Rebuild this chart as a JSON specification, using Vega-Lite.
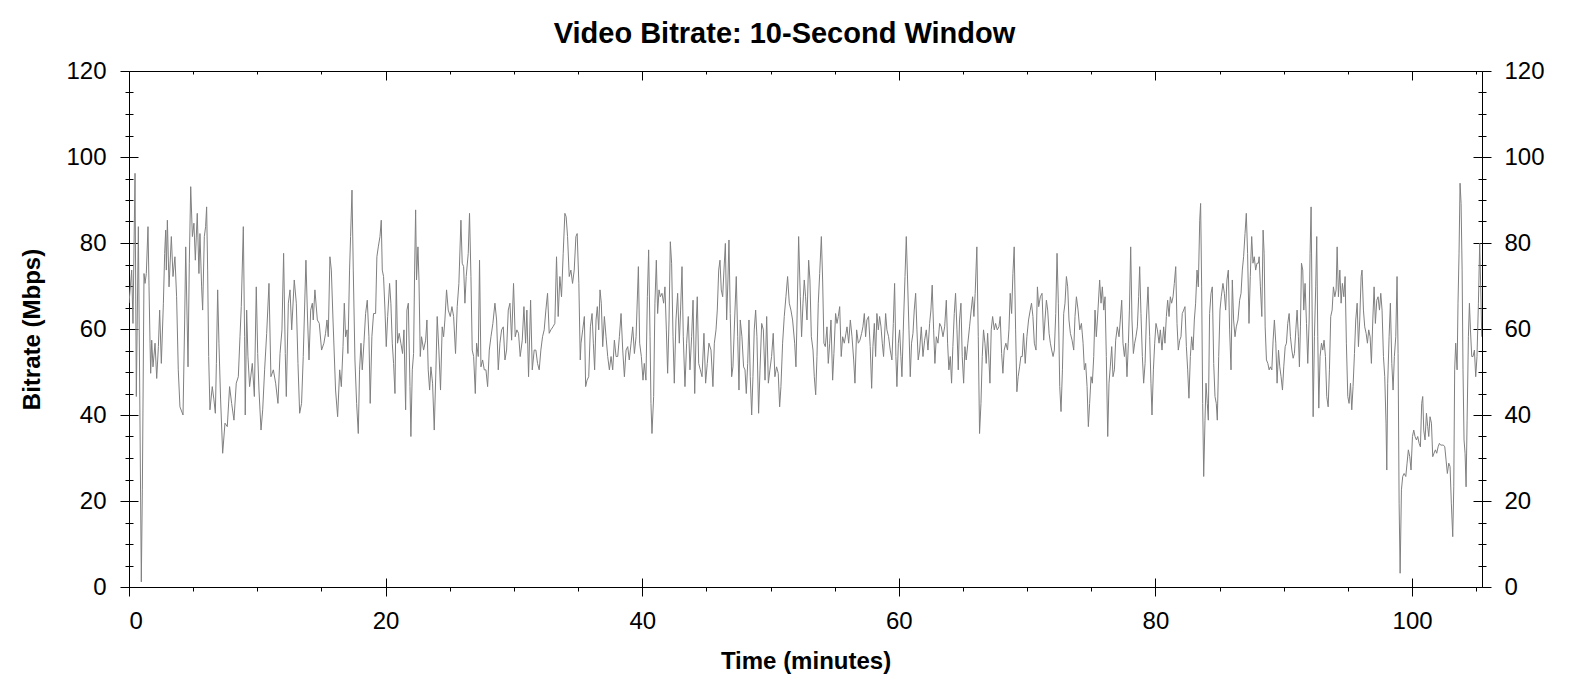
{
  "$schema": "https://vega.github.io/schema/vega-lite/v6.json",
  "width": 1353,
  "height": 516,
  "autosize": {"type": "none"},
  "padding": {"left": 129, "top": 71, "right": 88, "bottom": 108},
  "background": "#ffffff",
  "title": {"text": "Video Bitrate: 10-Second Window", "font": "Liberation Sans", "fontSize": 29, "fontWeight": "bold", "color": "#000000", "offset": 10, "dx": -21},
  "config": {
    "view": {"stroke": "#000000", "strokeWidth": 1},
    "axis": {"labelFont": "Liberation Sans", "labelFontSize": 24, "labelColor": "#000000", "titleFont": "Liberation Sans", "titleFontSize": 24, "titleFontWeight": "bold", "titleColor": "#000000", "domain": false, "grid": false, "tickColor": "#000000", "tickWidth": 1}
  },
  "data": {"values": [
{"t":0.00,"v":66.0},{"t":0.21,"v":73.7},{"t":0.31,"v":61.3},{"t":0.47,"v":96.2},{"t":0.57,"v":44.3},{"t":0.73,"v":83.8},{"t":0.96,"v":1.2},{"t":1.04,"v":22.6},{"t":1.17,"v":72.9},{"t":1.25,"v":70.6},{"t":1.35,"v":72.9},{"t":1.48,"v":83.8},{"t":1.56,"v":69.8},{"t":1.64,"v":56.7},{"t":1.69,"v":49.7},{"t":1.77,"v":57.4},{"t":1.87,"v":51.2},{"t":2.03,"v":56.7},{"t":2.16,"v":48.5},{"t":2.29,"v":55.9},{"t":2.39,"v":64.4},{"t":2.52,"v":52.0},{"t":2.68,"v":66.0},{"t":2.78,"v":77.6},{"t":2.86,"v":83.0},{"t":2.91,"v":73.7},{"t":2.99,"v":85.3},{"t":3.12,"v":69.8},{"t":3.30,"v":81.5},{"t":3.43,"v":72.2},{"t":3.58,"v":76.8},{"t":3.71,"v":67.5},{"t":3.84,"v":50.5},{"t":3.97,"v":41.9},{"t":4.21,"v":40.0},{"t":4.34,"v":62.1},{"t":4.42,"v":79.1},{"t":4.60,"v":51.2},{"t":4.70,"v":75.3},{"t":4.81,"v":93.1},{"t":4.94,"v":81.5},{"t":5.06,"v":84.6},{"t":5.17,"v":76.0},{"t":5.32,"v":86.9},{"t":5.45,"v":72.9},{"t":5.53,"v":82.2},{"t":5.66,"v":69.8},{"t":5.74,"v":64.4},{"t":5.87,"v":81.5},{"t":5.97,"v":83.8},{"t":6.05,"v":88.4},{"t":6.13,"v":73.7},{"t":6.21,"v":53.6},{"t":6.31,"v":41.2},{"t":6.49,"v":46.6},{"t":6.62,"v":43.5},{"t":6.73,"v":40.4},{"t":6.81,"v":52.0},{"t":6.91,"v":69.1},{"t":7.01,"v":56.7},{"t":7.14,"v":43.5},{"t":7.30,"v":31.1},{"t":7.48,"v":38.1},{"t":7.66,"v":37.3},{"t":7.84,"v":46.6},{"t":8.00,"v":42.7},{"t":8.18,"v":38.8},{"t":8.36,"v":47.4},{"t":8.52,"v":48.9},{"t":8.65,"v":58.2},{"t":8.75,"v":65.2},{"t":8.91,"v":83.8},{"t":9.01,"v":58.2},{"t":9.06,"v":40.0},{"t":9.17,"v":64.4},{"t":9.27,"v":53.6},{"t":9.40,"v":46.6},{"t":9.61,"v":52.0},{"t":9.77,"v":44.3},{"t":9.92,"v":69.8},{"t":10.03,"v":54.3},{"t":10.13,"v":45.8},{"t":10.29,"v":36.5},{"t":10.42,"v":41.2},{"t":10.57,"v":50.5},{"t":10.73,"v":59.0},{"t":10.91,"v":70.6},{"t":11.06,"v":48.9},{"t":11.25,"v":50.5},{"t":11.43,"v":47.4},{"t":11.61,"v":42.7},{"t":11.77,"v":54.3},{"t":11.92,"v":59.8},{"t":12.05,"v":77.6},{"t":12.18,"v":54.3},{"t":12.26,"v":44.3},{"t":12.42,"v":66.0},{"t":12.55,"v":69.1},{"t":12.68,"v":59.8},{"t":12.88,"v":71.4},{"t":13.04,"v":66.0},{"t":13.17,"v":52.0},{"t":13.30,"v":40.4},{"t":13.45,"v":42.7},{"t":13.58,"v":53.6},{"t":13.79,"v":76.0},{"t":13.92,"v":62.1},{"t":14.03,"v":52.8},{"t":14.16,"v":64.4},{"t":14.29,"v":66.0},{"t":14.36,"v":62.1},{"t":14.49,"v":69.1},{"t":14.68,"v":62.1},{"t":14.83,"v":61.3},{"t":15.01,"v":55.1},{"t":15.19,"v":56.7},{"t":15.32,"v":59.0},{"t":15.43,"v":62.1},{"t":15.53,"v":58.2},{"t":15.66,"v":76.8},{"t":15.77,"v":73.7},{"t":15.90,"v":62.1},{"t":16.10,"v":45.8},{"t":16.26,"v":39.6},{"t":16.42,"v":50.5},{"t":16.55,"v":46.6},{"t":16.68,"v":55.9},{"t":16.78,"v":66.0},{"t":16.88,"v":58.2},{"t":16.99,"v":59.8},{"t":17.06,"v":54.3},{"t":17.19,"v":73.7},{"t":17.27,"v":81.5},{"t":17.38,"v":92.3},{"t":17.48,"v":73.7},{"t":17.61,"v":52.8},
{"t":17.74,"v":42.7},{"t":17.87,"v":35.7},{"t":17.97,"v":50.5},{"t":18.08,"v":56.7},{"t":18.18,"v":50.5},{"t":18.31,"v":56.7},{"t":18.44,"v":63.6},{"t":18.57,"v":66.7},{"t":18.70,"v":58.2},{"t":18.80,"v":42.7},{"t":18.93,"v":58.2},{"t":19.06,"v":63.6},{"t":19.22,"v":63.6},{"t":19.32,"v":76.8},{"t":19.43,"v":79.1},{"t":19.56,"v":81.5},{"t":19.66,"v":85.3},{"t":19.74,"v":73.7},{"t":19.84,"v":72.2},{"t":19.95,"v":64.4},{"t":20.05,"v":55.9},{"t":20.16,"v":62.9},{"t":20.31,"v":70.6},{"t":20.41,"v":66.0},{"t":20.52,"v":56.7},{"t":20.62,"v":52.0},{"t":20.73,"v":45.0},{"t":20.83,"v":71.4},{"t":20.93,"v":56.7},{"t":21.06,"v":59.0},{"t":21.19,"v":56.7},{"t":21.32,"v":54.3},{"t":21.43,"v":59.8},{"t":21.56,"v":41.2},{"t":21.66,"v":64.4},{"t":21.77,"v":66.0},{"t":21.90,"v":46.6},{"t":21.97,"v":35.0},{"t":22.08,"v":50.5},{"t":22.18,"v":54.3},{"t":22.26,"v":73.7},{"t":22.34,"v":87.7},{"t":22.41,"v":71.4},{"t":22.52,"v":79.1},{"t":22.60,"v":71.4},{"t":22.70,"v":53.6},{"t":22.80,"v":58.2},{"t":22.96,"v":55.1},{"t":23.12,"v":57.4},{"t":23.22,"v":62.1},{"t":23.32,"v":50.5},{"t":23.43,"v":45.8},{"t":23.53,"v":51.2},{"t":23.66,"v":47.4},{"t":23.79,"v":36.5},{"t":23.92,"v":50.5},{"t":24.02,"v":62.9},{"t":24.15,"v":55.1},{"t":24.28,"v":45.8},{"t":24.41,"v":60.5},{"t":24.52,"v":58.2},{"t":24.62,"v":62.1},{"t":24.75,"v":69.1},{"t":24.88,"v":64.4},{"t":25.04,"v":62.9},{"t":25.17,"v":65.2},{"t":25.30,"v":62.9},{"t":25.45,"v":54.3},{"t":25.58,"v":65.2},{"t":25.71,"v":70.6},{"t":25.87,"v":85.3},{"t":25.97,"v":75.3},{"t":26.08,"v":74.5},{"t":26.18,"v":66.0},{"t":26.28,"v":72.2},{"t":26.44,"v":77.6},{"t":26.54,"v":86.9},{"t":26.65,"v":72.2},{"t":26.75,"v":55.1},{"t":26.86,"v":53.6},{"t":26.99,"v":45.0},{"t":27.09,"v":56.7},{"t":27.22,"v":53.6},{"t":27.32,"v":76.0},{"t":27.43,"v":51.2},{"t":27.56,"v":52.8},{"t":27.69,"v":50.5},{"t":27.82,"v":50.5},{"t":27.95,"v":46.6},{"t":28.08,"v":55.1},{"t":28.21,"v":58.2},{"t":28.36,"v":61.3},{"t":28.52,"v":66.0},{"t":28.65,"v":62.1},{"t":28.78,"v":50.5},{"t":28.91,"v":56.7},{"t":29.04,"v":59.8},{"t":29.17,"v":60.5},{"t":29.30,"v":52.8},{"t":29.43,"v":55.1},{"t":29.56,"v":64.4},{"t":29.69,"v":66.0},{"t":29.82,"v":57.4},{"t":29.97,"v":70.6},{"t":30.10,"v":58.2},{"t":30.23,"v":59.8},{"t":30.36,"v":59.0},{"t":30.49,"v":53.6},{"t":30.65,"v":57.4},{"t":30.78,"v":65.2},{"t":30.91,"v":56.7},{"t":31.01,"v":64.4},{"t":31.14,"v":48.9},{"t":31.30,"v":66.7},{"t":31.43,"v":50.5},{"t":31.58,"v":55.1},{"t":31.71,"v":55.1},{"t":31.84,"v":52.0},{"t":31.97,"v":50.5},{"t":32.10,"v":55.1},{"t":32.23,"v":58.2},{"t":32.36,"v":59.8},{"t":32.49,"v":64.4},{"t":32.62,"v":68.3},{"t":32.75,"v":59.0},{"t":32.88,"v":59.8},{"t":33.04,"v":60.5},{"t":33.19,"v":61.3},{"t":33.32,"v":76.8},{"t":33.45,"v":62.9},{"t":33.58,"v":72.2},{"t":33.71,"v":67.5},{"t":33.84,"v":77.6},{"t":33.97,"v":86.9},{"t":34.07,"v":86.1},{"t":34.18,"v":81.5},{"t":34.31,"v":72.2},{"t":34.44,"v":73.7},{"t":34.57,"v":70.6},{"t":34.70,"v":73.7},{"t":34.83,"v":81.5},{"t":34.93,"v":82.2},{"t":35.06,"v":70.6},{"t":35.17,"v":52.8},
{"t":35.23,"v":56.7},{"t":35.36,"v":59.8},{"t":35.49,"v":62.9},{"t":35.59,"v":46.6},{"t":35.70,"v":48.1},{"t":35.83,"v":48.9},{"t":35.96,"v":60.5},{"t":36.09,"v":63.6},{"t":36.19,"v":56.7},{"t":36.29,"v":50.5},{"t":36.40,"v":62.1},{"t":36.50,"v":65.2},{"t":36.61,"v":59.8},{"t":36.71,"v":69.1},{"t":36.81,"v":66.0},{"t":36.92,"v":55.9},{"t":37.05,"v":62.9},{"t":37.18,"v":58.2},{"t":37.31,"v":53.6},{"t":37.44,"v":50.5},{"t":37.57,"v":53.6},{"t":37.70,"v":50.5},{"t":37.83,"v":57.4},{"t":37.96,"v":53.6},{"t":38.09,"v":53.6},{"t":38.22,"v":58.2},{"t":38.35,"v":63.6},{"t":38.48,"v":55.1},{"t":38.61,"v":48.9},{"t":38.74,"v":55.1},{"t":38.87,"v":55.9},{"t":38.99,"v":52.8},{"t":39.13,"v":56.7},{"t":39.26,"v":60.5},{"t":39.39,"v":54.3},{"t":39.52,"v":58.2},{"t":39.59,"v":64.4},{"t":39.70,"v":74.5},{"t":39.80,"v":56.7},{"t":39.93,"v":53.6},{"t":40.06,"v":48.1},{"t":40.16,"v":52.0},{"t":40.29,"v":48.1},{"t":40.40,"v":67.5},{"t":40.50,"v":78.4},{"t":40.61,"v":58.2},{"t":40.68,"v":42.7},{"t":40.76,"v":35.7},{"t":40.89,"v":44.3},{"t":40.99,"v":66.0},{"t":41.10,"v":76.0},{"t":41.20,"v":63.6},{"t":41.31,"v":69.1},{"t":41.41,"v":67.5},{"t":41.54,"v":68.3},{"t":41.67,"v":66.0},{"t":41.77,"v":69.8},{"t":41.88,"v":59.8},{"t":41.98,"v":49.7},{"t":42.09,"v":62.1},{"t":42.19,"v":80.3},{"t":42.29,"v":75.3},{"t":42.40,"v":58.2},{"t":42.50,"v":47.4},{"t":42.63,"v":62.1},{"t":42.76,"v":68.3},{"t":42.89,"v":56.7},{"t":42.99,"v":64.4},{"t":43.10,"v":74.5},{"t":43.20,"v":58.2},{"t":43.33,"v":46.6},{"t":43.46,"v":56.7},{"t":43.59,"v":62.9},{"t":43.72,"v":50.5},{"t":43.85,"v":58.2},{"t":43.96,"v":66.7},{"t":44.09,"v":45.0},{"t":44.22,"v":62.1},{"t":44.29,"v":67.5},{"t":44.40,"v":52.0},{"t":44.53,"v":50.5},{"t":44.66,"v":48.9},{"t":44.81,"v":59.0},{"t":44.94,"v":47.4},{"t":45.07,"v":52.0},{"t":45.20,"v":56.7},{"t":45.36,"v":55.1},{"t":45.51,"v":46.6},{"t":45.62,"v":56.7},{"t":45.75,"v":59.8},{"t":45.85,"v":64.4},{"t":45.96,"v":73.7},{"t":46.06,"v":76.0},{"t":46.16,"v":69.1},{"t":46.27,"v":67.5},{"t":46.37,"v":73.7},{"t":46.48,"v":79.9},{"t":46.58,"v":62.1},{"t":46.68,"v":71.4},{"t":46.76,"v":80.7},{"t":46.86,"v":63.6},{"t":46.97,"v":48.9},{"t":47.07,"v":51.2},{"t":47.20,"v":62.1},{"t":47.33,"v":72.2},{"t":47.44,"v":58.2},{"t":47.54,"v":45.8},{"t":47.64,"v":62.1},{"t":47.77,"v":58.2},{"t":47.90,"v":51.2},{"t":48.01,"v":50.5},{"t":48.11,"v":45.0},{"t":48.22,"v":52.0},{"t":48.32,"v":62.1},{"t":48.42,"v":48.9},{"t":48.53,"v":40.0},{"t":48.63,"v":48.9},{"t":48.73,"v":59.8},{"t":48.84,"v":64.4},{"t":48.94,"v":58.2},{"t":49.07,"v":40.4},{"t":49.18,"v":50.5},{"t":49.31,"v":61.3},{"t":49.44,"v":59.8},{"t":49.57,"v":48.1},{"t":49.70,"v":62.9},{"t":49.83,"v":47.4},{"t":49.95,"v":50.5},{"t":50.08,"v":53.6},{"t":50.21,"v":59.0},{"t":50.34,"v":48.9},{"t":50.47,"v":51.2},{"t":50.60,"v":49.7},{"t":50.71,"v":41.9},{"t":50.81,"v":46.6},{"t":50.94,"v":56.7},{"t":51.07,"v":62.9},{"t":51.20,"v":67.5},{"t":51.33,"v":72.2},{"t":51.46,"v":66.0},{"t":51.59,"v":64.4},{"t":51.72,"v":62.1},{"t":51.88,"v":56.7},{"t":51.98,"v":51.2},{"t":52.08,"v":64.4},{"t":52.19,"v":81.5},{"t":52.32,"v":67.5},{"t":52.42,"v":58.2},{"t":52.53,"v":66.0},{"t":52.63,"v":71.4},{"t":52.73,"v":67.5},{"t":52.84,"v":62.1},
{"t":52.97,"v":76.0},{"t":53.07,"v":71.4},{"t":53.18,"v":58.2},{"t":53.31,"v":55.1},{"t":53.41,"v":48.9},{"t":53.52,"v":44.7},{"t":53.62,"v":53.6},{"t":53.72,"v":66.0},{"t":53.83,"v":72.9},{"t":53.96,"v":81.5},{"t":54.06,"v":71.4},{"t":54.16,"v":56.7},{"t":54.27,"v":55.9},{"t":54.40,"v":60.5},{"t":54.50,"v":52.0},{"t":54.61,"v":56.7},{"t":54.71,"v":62.1},{"t":54.84,"v":48.1},{"t":54.94,"v":54.3},{"t":55.07,"v":63.6},{"t":55.18,"v":61.3},{"t":55.28,"v":62.9},{"t":55.39,"v":65.2},{"t":55.51,"v":53.6},{"t":55.62,"v":58.2},{"t":55.75,"v":56.7},{"t":55.88,"v":59.0},{"t":55.96,"v":60.5},{"t":56.09,"v":56.7},{"t":56.22,"v":62.1},{"t":56.35,"v":58.2},{"t":56.48,"v":52.8},{"t":56.58,"v":47.4},{"t":56.71,"v":59.8},{"t":56.84,"v":56.7},{"t":56.97,"v":57.4},{"t":57.10,"v":59.0},{"t":57.20,"v":60.5},{"t":57.31,"v":63.6},{"t":57.41,"v":58.2},{"t":57.51,"v":62.1},{"t":57.64,"v":62.9},{"t":57.77,"v":55.9},{"t":57.88,"v":46.2},{"t":57.98,"v":55.9},{"t":58.09,"v":61.3},{"t":58.19,"v":53.6},{"t":58.29,"v":63.6},{"t":58.40,"v":59.8},{"t":58.50,"v":62.9},{"t":58.61,"v":60.5},{"t":58.71,"v":56.7},{"t":58.81,"v":53.6},{"t":58.97,"v":63.6},{"t":59.07,"v":59.8},{"t":59.20,"v":58.2},{"t":59.33,"v":55.1},{"t":59.46,"v":52.8},{"t":59.57,"v":61.3},{"t":59.67,"v":70.6},{"t":59.77,"v":53.6},{"t":59.85,"v":46.6},{"t":59.96,"v":56.7},{"t":60.06,"v":59.8},{"t":60.16,"v":53.6},{"t":60.24,"v":48.9},{"t":60.37,"v":62.1},{"t":60.48,"v":72.2},{"t":60.58,"v":81.5},{"t":60.68,"v":71.4},{"t":60.79,"v":59.8},{"t":60.89,"v":48.9},{"t":60.99,"v":56.7},{"t":61.10,"v":59.0},{"t":61.20,"v":64.4},{"t":61.31,"v":68.3},{"t":61.41,"v":59.8},{"t":61.51,"v":52.8},{"t":61.62,"v":55.1},{"t":61.75,"v":60.5},{"t":61.88,"v":53.6},{"t":62.01,"v":57.4},{"t":62.14,"v":59.8},{"t":62.27,"v":55.1},{"t":62.40,"v":61.3},{"t":62.50,"v":64.4},{"t":62.60,"v":70.2},{"t":62.71,"v":59.8},{"t":62.81,"v":52.0},{"t":62.92,"v":58.2},{"t":63.05,"v":56.7},{"t":63.18,"v":61.3},{"t":63.31,"v":60.5},{"t":63.44,"v":58.2},{"t":63.57,"v":60.5},{"t":63.70,"v":66.7},{"t":63.80,"v":56.7},{"t":63.90,"v":50.5},{"t":64.01,"v":53.6},{"t":64.11,"v":47.4},{"t":64.21,"v":55.9},{"t":64.32,"v":63.6},{"t":64.42,"v":68.3},{"t":64.53,"v":59.8},{"t":64.63,"v":50.5},{"t":64.73,"v":62.1},{"t":64.84,"v":66.0},{"t":64.94,"v":53.6},{"t":65.05,"v":47.4},{"t":65.15,"v":55.9},{"t":65.25,"v":52.8},{"t":65.38,"v":56.7},{"t":65.51,"v":60.5},{"t":65.64,"v":64.4},{"t":65.75,"v":67.5},{"t":65.85,"v":62.9},{"t":65.95,"v":68.3},{"t":66.08,"v":79.1},{"t":66.19,"v":58.2},{"t":66.29,"v":35.7},{"t":66.40,"v":42.7},{"t":66.50,"v":53.6},{"t":66.60,"v":59.8},{"t":66.71,"v":56.7},{"t":66.81,"v":52.0},{"t":66.92,"v":59.0},{"t":67.02,"v":52.8},{"t":67.10,"v":47.4},{"t":67.20,"v":59.8},{"t":67.31,"v":62.9},{"t":67.44,"v":59.8},{"t":67.54,"v":61.3},{"t":67.67,"v":59.8},{"t":67.80,"v":60.5},{"t":67.90,"v":62.9},{"t":68.01,"v":54.3},{"t":68.11,"v":49.7},{"t":68.21,"v":55.1},{"t":68.34,"v":56.7},{"t":68.47,"v":55.1},{"t":68.58,"v":59.8},{"t":68.68,"v":68.3},{"t":68.79,"v":63.6},{"t":68.89,"v":72.9},{"t":68.99,"v":79.1},{"t":69.10,"v":59.8},{"t":69.20,"v":45.4},{"t":69.30,"v":48.9},{"t":69.41,"v":51.2},{"t":69.51,"v":53.6},{"t":69.62,"v":53.6},{"t":69.72,"v":59.0},{"t":69.85,"v":52.0},{"t":69.98,"v":58.2},{"t":70.11,"v":62.1},{"t":70.24,"v":64.4},{"t":70.34,"v":66.0},{"t":70.45,"v":62.9},
{"t":70.56,"v":56.7},{"t":70.69,"v":55.1},{"t":70.80,"v":69.8},{"t":70.90,"v":65.2},{"t":71.03,"v":67.5},{"t":71.16,"v":68.3},{"t":71.29,"v":57.4},{"t":71.39,"v":62.1},{"t":71.50,"v":66.7},{"t":71.60,"v":64.4},{"t":71.71,"v":59.0},{"t":71.81,"v":56.7},{"t":71.91,"v":55.1},{"t":72.02,"v":53.6},{"t":72.12,"v":55.1},{"t":72.23,"v":63.6},{"t":72.33,"v":77.6},{"t":72.43,"v":66.0},{"t":72.54,"v":46.6},{"t":72.64,"v":40.8},{"t":72.75,"v":50.5},{"t":72.85,"v":63.6},{"t":72.95,"v":66.0},{"t":73.06,"v":72.2},{"t":73.16,"v":69.8},{"t":73.26,"v":62.1},{"t":73.37,"v":59.0},{"t":73.50,"v":57.4},{"t":73.63,"v":55.1},{"t":73.73,"v":62.9},{"t":73.84,"v":67.5},{"t":73.97,"v":64.4},{"t":74.10,"v":59.8},{"t":74.23,"v":61.3},{"t":74.36,"v":56.7},{"t":74.46,"v":50.5},{"t":74.56,"v":52.0},{"t":74.67,"v":46.6},{"t":74.77,"v":37.3},{"t":74.87,"v":42.7},{"t":74.98,"v":48.9},{"t":75.08,"v":47.4},{"t":75.19,"v":53.6},{"t":75.29,"v":64.4},{"t":75.39,"v":58.2},{"t":75.52,"v":64.4},{"t":75.65,"v":71.4},{"t":75.76,"v":66.0},{"t":75.86,"v":69.8},{"t":75.97,"v":64.4},{"t":76.07,"v":67.5},{"t":76.17,"v":53.6},{"t":76.28,"v":35.0},{"t":76.38,"v":47.4},{"t":76.48,"v":51.2},{"t":76.59,"v":55.9},{"t":76.69,"v":48.9},{"t":76.80,"v":50.5},{"t":76.90,"v":57.4},{"t":77.03,"v":60.5},{"t":77.16,"v":58.2},{"t":77.26,"v":62.1},{"t":77.37,"v":66.7},{"t":77.47,"v":56.7},{"t":77.58,"v":53.6},{"t":77.68,"v":56.7},{"t":77.78,"v":48.9},{"t":77.89,"v":56.7},{"t":77.97,"v":64.4},{"t":78.07,"v":79.1},{"t":78.17,"v":62.1},{"t":78.28,"v":54.3},{"t":78.38,"v":56.7},{"t":78.48,"v":58.2},{"t":78.59,"v":60.5},{"t":78.69,"v":67.5},{"t":78.77,"v":74.5},{"t":78.87,"v":63.6},{"t":78.98,"v":53.6},{"t":79.08,"v":47.4},{"t":79.19,"v":52.0},{"t":79.29,"v":62.1},{"t":79.42,"v":69.8},{"t":79.55,"v":58.2},{"t":79.65,"v":47.4},{"t":79.73,"v":40.0},{"t":79.84,"v":50.5},{"t":79.94,"v":56.7},{"t":80.04,"v":61.3},{"t":80.15,"v":59.8},{"t":80.28,"v":56.7},{"t":80.38,"v":59.8},{"t":80.51,"v":55.1},{"t":80.64,"v":60.5},{"t":80.74,"v":56.7},{"t":80.85,"v":62.9},{"t":80.95,"v":66.7},{"t":81.06,"v":62.9},{"t":81.16,"v":67.5},{"t":81.26,"v":66.0},{"t":81.37,"v":67.5},{"t":81.47,"v":70.6},{"t":81.58,"v":74.5},{"t":81.68,"v":61.3},{"t":81.78,"v":55.1},{"t":81.89,"v":57.4},{"t":81.99,"v":58.2},{"t":82.09,"v":63.6},{"t":82.20,"v":64.4},{"t":82.30,"v":65.2},{"t":82.41,"v":55.9},{"t":82.51,"v":50.5},{"t":82.61,"v":43.9},{"t":82.72,"v":53.6},{"t":82.82,"v":58.2},{"t":82.93,"v":55.1},{"t":83.03,"v":62.1},{"t":83.13,"v":66.0},{"t":83.24,"v":73.7},{"t":83.34,"v":69.8},{"t":83.45,"v":85.3},{"t":83.52,"v":89.2},{"t":83.60,"v":69.8},{"t":83.68,"v":42.7},{"t":83.76,"v":25.7},{"t":83.86,"v":38.8},{"t":83.94,"v":47.4},{"t":84.04,"v":42.7},{"t":84.12,"v":38.8},{"t":84.22,"v":63.6},{"t":84.33,"v":68.3},{"t":84.43,"v":69.8},{"t":84.54,"v":52.0},{"t":84.64,"v":44.3},{"t":84.74,"v":42.7},{"t":84.82,"v":38.8},{"t":84.93,"v":53.6},{"t":85.03,"v":64.4},{"t":85.13,"v":67.5},{"t":85.26,"v":70.6},{"t":85.37,"v":68.3},{"t":85.47,"v":64.4},{"t":85.57,"v":71.4},{"t":85.68,"v":73.7},{"t":85.78,"v":59.8},{"t":85.89,"v":50.5},{"t":85.99,"v":71.4},{"t":86.09,"v":62.1},{"t":86.20,"v":58.2},{"t":86.30,"v":60.5},{"t":86.43,"v":62.1},{"t":86.56,"v":66.7},{"t":86.67,"v":68.3},{"t":86.77,"v":73.7},{"t":86.87,"v":76.8},{"t":86.98,"v":82.2},{"t":87.08,"v":86.9},{"t":87.18,"v":77.6},{"t":87.29,"v":61.3},{"t":87.39,"v":72.2},{"t":87.50,"v":81.5},{"t":87.60,"v":75.3},{"t":87.70,"v":76.8},{"t":87.81,"v":73.7},{"t":87.91,"v":75.3},{"t":88.02,"v":75.3},
{"t":88.08,"v":76.8},{"t":88.18,"v":69.8},{"t":88.29,"v":62.9},{"t":88.39,"v":83.0},{"t":88.47,"v":77.6},{"t":88.55,"v":60.5},{"t":88.65,"v":52.8},{"t":88.76,"v":52.0},{"t":88.86,"v":50.5},{"t":88.96,"v":51.2},{"t":89.07,"v":50.5},{"t":89.17,"v":57.4},{"t":89.27,"v":62.1},{"t":89.38,"v":56.7},{"t":89.48,"v":47.4},{"t":89.59,"v":55.1},{"t":89.69,"v":51.2},{"t":89.79,"v":48.9},{"t":89.90,"v":45.8},{"t":90.00,"v":51.2},{"t":90.11,"v":55.9},{"t":90.21,"v":56.7},{"t":90.31,"v":61.3},{"t":90.42,"v":63.6},{"t":90.52,"v":58.2},{"t":90.63,"v":55.1},{"t":90.73,"v":53.2},{"t":90.83,"v":54.3},{"t":90.94,"v":59.8},{"t":91.04,"v":64.4},{"t":91.14,"v":58.2},{"t":91.22,"v":51.2},{"t":91.30,"v":60.5},{"t":91.38,"v":75.3},{"t":91.48,"v":73.7},{"t":91.56,"v":64.4},{"t":91.66,"v":70.6},{"t":91.77,"v":61.3},{"t":91.87,"v":52.0},{"t":91.98,"v":62.1},{"t":92.05,"v":77.6},{"t":92.13,"v":88.4},{"t":92.21,"v":64.4},{"t":92.29,"v":39.6},{"t":92.39,"v":58.2},{"t":92.49,"v":69.8},{"t":92.57,"v":81.5},{"t":92.65,"v":58.2},{"t":92.73,"v":41.6},{"t":92.83,"v":53.6},{"t":92.94,"v":56.7},{"t":93.04,"v":55.1},{"t":93.14,"v":57.4},{"t":93.25,"v":53.6},{"t":93.35,"v":44.3},{"t":93.46,"v":41.9},{"t":93.56,"v":50.5},{"t":93.66,"v":62.9},{"t":93.77,"v":64.4},{"t":93.87,"v":69.8},{"t":93.98,"v":67.5},{"t":94.08,"v":69.1},{"t":94.16,"v":79.1},{"t":94.26,"v":67.5},{"t":94.37,"v":73.7},{"t":94.47,"v":66.0},{"t":94.57,"v":70.6},{"t":94.68,"v":67.5},{"t":94.78,"v":72.2},{"t":94.88,"v":56.7},{"t":94.99,"v":44.3},{"t":95.09,"v":42.7},{"t":95.20,"v":47.4},{"t":95.30,"v":41.2},{"t":95.40,"v":46.6},{"t":95.51,"v":54.3},{"t":95.61,"v":62.1},{"t":95.72,"v":66.0},{"t":95.82,"v":55.9},{"t":95.92,"v":62.1},{"t":96.03,"v":72.2},{"t":96.10,"v":73.7},{"t":96.21,"v":64.4},{"t":96.31,"v":60.5},{"t":96.42,"v":59.0},{"t":96.52,"v":56.7},{"t":96.62,"v":59.8},{"t":96.73,"v":58.2},{"t":96.83,"v":52.0},{"t":96.94,"v":62.1},{"t":97.04,"v":69.8},{"t":97.14,"v":61.3},{"t":97.25,"v":66.7},{"t":97.35,"v":67.5},{"t":97.46,"v":64.4},{"t":97.56,"v":68.3},{"t":97.66,"v":64.4},{"t":97.77,"v":53.6},{"t":97.87,"v":48.9},{"t":97.97,"v":38.1},{"t":98.03,"v":27.2},{"t":98.10,"v":47.4},{"t":98.21,"v":58.2},{"t":98.31,"v":66.0},{"t":98.42,"v":52.0},{"t":98.52,"v":45.8},{"t":98.62,"v":53.6},{"t":98.73,"v":58.2},{"t":98.83,"v":72.2},{"t":98.91,"v":54.3},{"t":98.99,"v":19.5},{"t":99.07,"v":3.2},{"t":99.17,"v":22.6},{"t":99.27,"v":25.7},{"t":99.38,"v":26.4},{"t":99.51,"v":25.7},{"t":99.61,"v":28.8},{"t":99.71,"v":31.9},{"t":99.82,"v":30.3},{"t":99.92,"v":27.2},{"t":100.03,"v":35.0},{"t":100.13,"v":36.5},{"t":100.23,"v":35.0},{"t":100.34,"v":34.2},{"t":100.44,"v":35.0},{"t":100.55,"v":33.4},{"t":100.65,"v":32.6},{"t":100.75,"v":42.7},{"t":100.83,"v":44.3},{"t":100.91,"v":36.5},{"t":101.01,"v":34.2},{"t":101.12,"v":40.4},{"t":101.22,"v":37.3},{"t":101.30,"v":35.0},{"t":101.40,"v":39.6},{"t":101.51,"v":38.1},{"t":101.61,"v":30.3},{"t":101.71,"v":31.1},{"t":101.82,"v":31.9},{"t":101.92,"v":31.1},{"t":102.03,"v":32.6},{"t":102.13,"v":33.4},{"t":102.23,"v":33.0},{"t":102.34,"v":33.0},{"t":102.44,"v":33.0},{"t":102.55,"v":32.6},{"t":102.65,"v":29.5},{"t":102.75,"v":26.4},{"t":102.86,"v":28.8},{"t":102.96,"v":28.0},{"t":103.06,"v":19.5},{"t":103.17,"v":11.7},{"t":103.25,"v":23.3},{"t":103.32,"v":50.5},{"t":103.40,"v":56.7},{"t":103.51,"v":50.5},{"t":103.58,"v":66.0},{"t":103.66,"v":77.6},{"t":103.74,"v":93.9},{"t":103.82,"v":89.2},{"t":103.90,"v":73.7},{"t":103.97,"v":50.5},{"t":104.05,"v":34.2},{"t":104.13,"v":31.1},{"t":104.21,"v":23.3},{"t":104.29,"v":38.8},{"t":104.39,"v":58.2},{"t":104.47,"v":66.0},{"t":104.55,"v":59.8},{"t":104.65,"v":53.6},{"t":104.75,"v":53.6},{"t":104.86,"v":55.1},{"t":104.96,"v":48.9},{"t":105.06,"v":53.6},{"t":105.17,"v":66.0},{"t":105.27,"v":79.9},{"t":105.35,"v":69.8},{"t":105.43,"v":58.2}
  ]},
  "layer": [
    {
      "mark": {"type": "line", "color": "#808080", "strokeWidth": 1, "clip": true},
      "encoding": {
        "x": {"field": "t", "type": "quantitative", "scale": {"domain": [0, 105.45], "nice": false, "zero": false},
              "axis": {"orient": "bottom", "values": [0, 20, 40, 60, 80, 100], "tickSize": 9, "labelPadding": 13, "title": "Time (minutes)", "titlePadding": 16}},
        "y": {"field": "v", "type": "quantitative", "scale": {"domain": [0, 120], "nice": false},
              "axis": {"orient": "left", "values": [0, 20, 40, 60, 80, 100, 120], "tickSize": 9, "labelPadding": 14, "title": "Bitrate (Mbps)", "titlePadding": 21}}
      }
    },
    {
      "mark": {"type": "line", "strokeOpacity": 0},
      "encoding": {
        "x": {"field": "t", "type": "quantitative", "axis": {"orient": "bottom", "values": [0, 20, 40, 60, 80, 100], "tickSize": -9, "labels": false, "title": null}},
        "y": {"field": "v", "type": "quantitative", "axis": {"orient": "left", "values": [0, 20, 40, 60, 80, 100, 120], "tickSize": -9, "labels": false, "title": null}}
      }
    },
    {
      "mark": {"type": "line", "strokeOpacity": 0},
      "encoding": {
        "x": {"field": "t", "type": "quantitative", "axis": {"orient": "bottom", "values": [5, 10, 15, 25, 30, 35, 45, 50, 55, 65, 70, 75, 85, 90, 95, 105], "tickSize": 4, "labels": false, "title": null}},
        "y": {"field": "v", "type": "quantitative", "axis": {"orient": "left", "values": [5, 10, 15, 25, 30, 35, 45, 50, 55, 65, 70, 75, 85, 90, 95, 105, 110, 115], "tickSize": 4, "labels": false, "title": null}}
      }
    },
    {
      "mark": {"type": "line", "strokeOpacity": 0},
      "encoding": {
        "x": {"field": "t", "type": "quantitative", "axis": {"orient": "top", "values": [5, 10, 15, 25, 30, 35, 45, 50, 55, 65, 70, 75, 85, 90, 95, 105], "tickSize": -3, "labels": false, "title": null}},
        "y": {"field": "v", "type": "quantitative", "axis": {"orient": "left", "values": [5, 10, 15, 25, 30, 35, 45, 50, 55, 65, 70, 75, 85, 90, 95, 105, 110, 115], "tickSize": -4, "labels": false, "title": null}}
      }
    },
    {
      "mark": {"type": "line", "strokeOpacity": 0},
      "encoding": {
        "x": {"field": "t", "type": "quantitative", "axis": {"orient": "top", "values": [20, 40, 60, 80, 100], "tickSize": -9, "labels": false, "title": null}},
        "y": {"field": "v", "type": "quantitative", "axis": {"orient": "right", "values": [0, 20, 40, 60, 80, 100, 120], "tickSize": 9, "labelPadding": 13, "title": null}}
      }
    },
    {
      "mark": {"type": "line", "strokeOpacity": 0},
      "encoding": {
        "x": {"field": "t", "type": "quantitative", "axis": null},
        "y": {"field": "v", "type": "quantitative", "axis": {"orient": "right", "values": [0, 20, 40, 60, 80, 100, 120], "tickSize": -9, "labels": false, "title": null}}
      }
    },
    {
      "mark": {"type": "line", "strokeOpacity": 0},
      "encoding": {
        "x": {"field": "t", "type": "quantitative", "axis": null},
        "y": {"field": "v", "type": "quantitative", "axis": {"orient": "right", "values": [5, 10, 15, 25, 30, 35, 45, 50, 55, 65, 70, 75, 85, 90, 95, 105, 110, 115], "tickSize": 4, "labels": false, "title": null}}
      }
    },
    {
      "mark": {"type": "line", "strokeOpacity": 0},
      "encoding": {
        "x": {"field": "t", "type": "quantitative", "axis": null},
        "y": {"field": "v", "type": "quantitative", "axis": {"orient": "right", "values": [5, 10, 15, 25, 30, 35, 45, 50, 55, 65, 70, 75, 85, 90, 95, 105, 110, 115], "tickSize": -4, "labels": false, "title": null}}
      }
    }
  ],
  "resolve": {"axis": {"x": "independent", "y": "independent"}}
}
